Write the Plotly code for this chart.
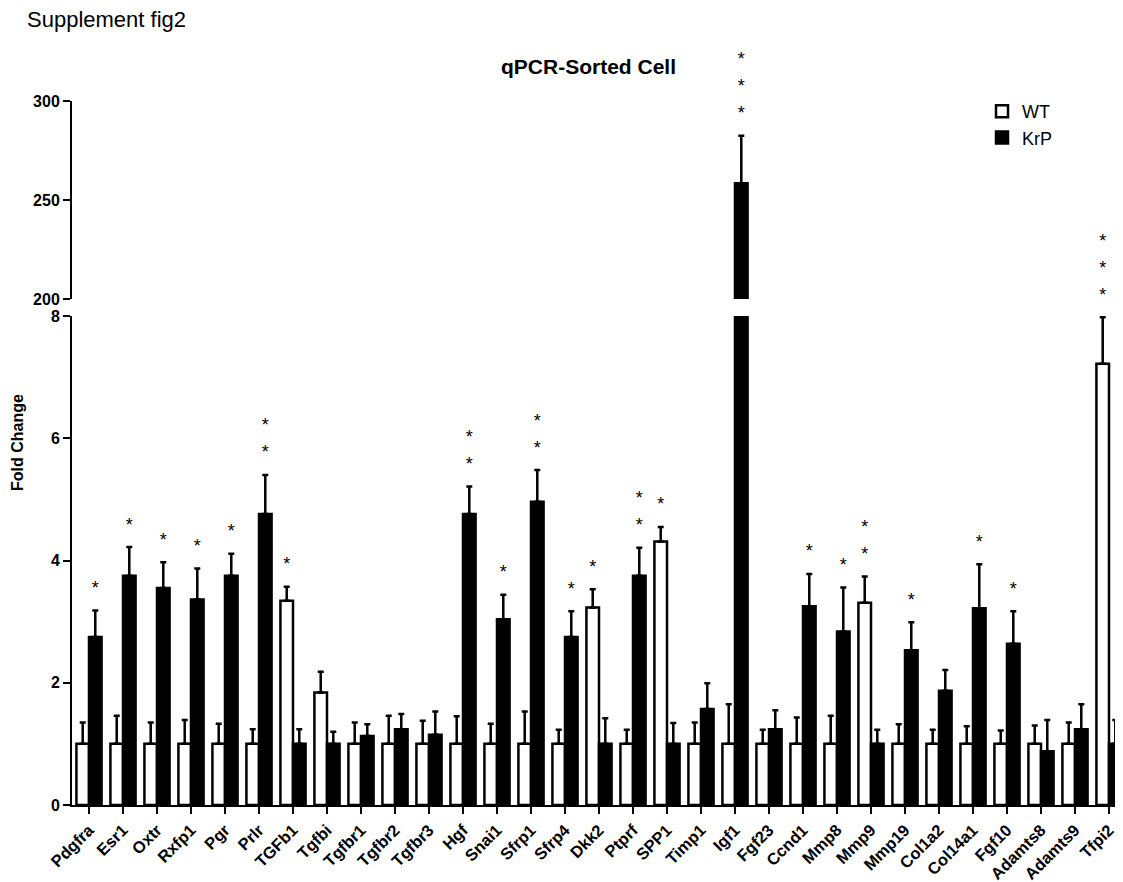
import plotly.graph_objects as go

genes = ["Pdgfra", "Esr1", "Oxtr", "Rxfp1", "Pgr", "Prlr", "TGFb1", "Tgfbi", "Tgfbr1",
         "Tgfbr2", "Tgfbr3", "Hgf", "Snai1", "Sfrp1", "Sfrp4", "Dkk2", "Ptprf", "SPP1",
         "Timp1", "Igf1", "Fgf23", "Ccnd1", "Mmp8", "Mmp9", "Mmp19", "Col1a2", "Col14a1",
         "Fgf10", "Adamts8", "Adamts9", "Tfpi2"]

wt_mean = [1, 1, 1, 1, 1, 1, 3.34, 1.84, 1, 1, 1, 1, 1, 1, 1, 3.23, 1, 4.31,
           1, 1, 1, 1, 1, 3.31, 1, 1, 1, 1, 1, 1, 7.22]
wt_err = [0.35, 0.46, 0.35, 0.39, 0.33, 0.24, 0.23, 0.34, 0.35, 0.46, 0.38, 0.45, 0.33, 0.53,
          0.23, 0.30, 0.23, 0.24, 0.35, 0.65, 0.23, 0.43, 0.46, 0.43, 0.32, 0.23, 0.29,
          0.22, 0.30, 0.35, 0.76]
krp_mean = [2.75, 3.75, 3.55, 3.36, 3.75, 4.76, 1.0, 1.0, 1.13, 1.24, 1.15, 4.76, 3.04, 4.96,
            2.75, 1.0, 3.75, 1.0, 1.57, 258.4, 1.24, 3.25, 2.84, 1.0, 2.53, 1.87, 3.22,
            2.64, 0.88, 1.24, 1.0]
krp_err = [0.43, 0.47, 0.42, 0.51, 0.36, 0.64, 0.24, 0.20, 0.19, 0.25, 0.38, 0.45, 0.40, 0.52,
           0.42, 0.42, 0.46, 0.34, 0.42, 24.1, 0.31, 0.53, 0.72, 0.23, 0.46, 0.34, 0.72,
           0.53, 0.51, 0.41, 0.39]
# number of significance asterisks above each bar
wt_stars = [0, 0, 0, 0, 0, 0, 1, 0, 0, 0, 0, 0, 0, 0, 0, 1, 0, 1,
            0, 0, 0, 0, 0, 2, 0, 0, 0, 0, 0, 0, 3]
krp_stars = [1, 1, 1, 1, 1, 2, 0, 0, 0, 0, 0, 2, 1, 2, 1, 0, 2, 0,
             0, 3, 0, 1, 1, 0, 1, 0, 1, 1, 0, 0, 0]

low_range = [0, 8]
high_range = [200, 300]
low_ticks = [0, 2, 4, 6, 8]
high_ticks = [200, 250, 300]

FONT = "Arial, Liberation Sans, Helvetica, sans-serif"
PAGE = 8                      # default body margin of the html page
W, H = 1123 - PAGE, 882 - PAGE
ML, MR, MT, MB = 72 - PAGE, 0, 40 - PAGE, 77
plot_w = W - ML - MR
plot_h = H - MT - MB
x0_ref = 72                   # left edge of the plot area (page px)
base_ref = 805                # bottom of the plot area (page px)
low_top_ref, high_bot_ref, high_top_ref = 316, 299, 101


def px_x(x):
    return (x - x0_ref) / plot_w


def px_y(y):
    return (base_ref - y) / plot_h


low_dom = [0, px_y(low_top_ref)]
high_dom = [px_y(high_bot_ref), px_y(high_top_ref)]

bar_w = 0.37
xs = list(range(len(genes)))

fig = go.Figure()


def add_bars(yaxis, show):
    fig.add_trace(go.Bar(
        x=xs, y=wt_mean, width=bar_w, offset=-bar_w, name="WT", yaxis=yaxis,
        marker=dict(color="white", line=dict(color="black", width=2.5)),
        error_y=dict(type="data", array=wt_err, arrayminus=[0] * len(xs), symmetric=False,
                     color="black", thickness=2.5, width=3),
        showlegend=show, legendgroup="WT"))
    fig.add_trace(go.Bar(
        x=xs, y=krp_mean, width=bar_w, offset=0, name="KrP", yaxis=yaxis,
        marker=dict(color="black", line=dict(color="black", width=2.5)),
        error_y=dict(type="data", array=krp_err, arrayminus=[0] * len(xs), symmetric=False,
                     color="black", thickness=2.5, width=3),
        showlegend=show, legendgroup="KrP"))


add_bars("y", True)
add_bars("y2", False)

# significance asterisks: placed on a hidden full-height axis measured in lower-panel units
low_px = (base_ref - low_top_ref) / (low_range[1] - low_range[0])
high_px = (high_bot_ref - high_top_ref) / (high_range[1] - high_range[0])
off_px, step_px = 21, 27
sx, sy = [], []
for means, errs, stars, dx in ((wt_mean, wt_err, wt_stars, -bar_w / 2),
                               (krp_mean, krp_err, krp_stars, bar_w / 2)):
    for i in xs:
        top = means[i] + errs[i]
        if top > high_range[0]:
            top_pix = high_bot_ref - (top - high_range[0]) * high_px
        else:
            top_pix = base_ref - (top - low_range[0]) * low_px
        for k in range(stars[i]):
            pix = top_pix - off_px - k * step_px
            sx.append(i + dx)
            sy.append((base_ref - pix) / low_px)

fig.add_trace(go.Scatter(x=sx, y=sy, mode="text", text=["*"] * len(sx),
                         textfont=dict(family=FONT, size=18, color="black"),
                         cliponaxis=False, showlegend=False, hoverinfo="skip", yaxis="y3"))

axis_common = dict(showline=True, linecolor="black", linewidth=2, ticks="outside",
                   ticklen=7, tickwidth=2, tickcolor="black", showgrid=False, zeroline=False,
                   tickfont=dict(family=FONT, size=16, color="black", weight="bold"))

fig.update_layout(
    width=W, height=H,
    margin=dict(l=ML, r=MR, t=MT, b=MB),
    paper_bgcolor="white", plot_bgcolor="rgba(0,0,0,0)",
    barmode="overlay",
    font=dict(family=FONT, color="black"),
    xaxis=dict(range=[-0.5, -0.5 + plot_w / 34.0], tickmode="array", tickvals=xs,
               ticktext=genes, tickangle=-45, anchor="y",
               **{**axis_common,
                  "tickfont": dict(family=FONT, size=16.5, color="black", weight="bold")}),
    yaxis=dict(domain=low_dom, range=low_range, tickmode="array", tickvals=low_ticks,
               anchor="x", **axis_common),
    yaxis2=dict(domain=high_dom, range=high_range, tickmode="array", tickvals=high_ticks,
                anchor="x", **axis_common),
    yaxis3=dict(domain=[0, 1], range=[0, plot_h / low_px], visible=False, anchor="x",
                showgrid=False, zeroline=False),
    legend=dict(x=px_x(982), y=px_y(93), xanchor="left", yanchor="top",
                font=dict(family=FONT, size=18, color="black"),
                bgcolor="rgba(0,0,0,0)", traceorder="normal"),
    annotations=[
        dict(text="Supplement fig2", xref="paper", yref="paper",
             x=px_x(25), y=px_y(19), xanchor="left", yanchor="middle", showarrow=False,
             font=dict(family=FONT, size=22, color="black")),
        dict(text="<b>qPCR-Sorted Cell</b>", xref="paper", yref="paper",
             x=px_x(588), y=px_y(67), xanchor="center", yanchor="middle", showarrow=False,
             font=dict(family=FONT, size=21, color="black")),
        dict(text="<b>Fold Change</b>", xref="paper", yref="paper",
             x=px_x(17), y=px_y(443), xanchor="center", yanchor="middle", showarrow=False,
             textangle=-90, font=dict(family=FONT, size=16, color="black")),
    ],
)

fig.write_html("out.html")
